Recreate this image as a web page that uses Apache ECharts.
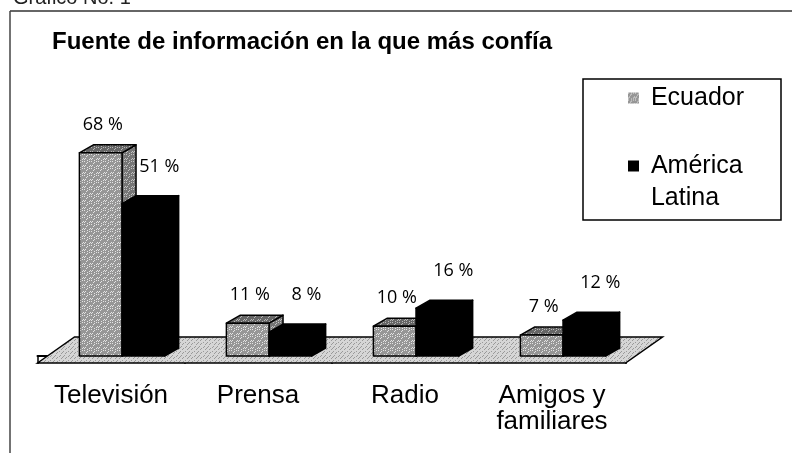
<!DOCTYPE html>
<html>
<head>
<meta charset="utf-8">
<title>Fuente de información en la que más confía</title>
<script src="https://cdn.jsdelivr.net/npm/echarts@6.0.0/dist/echarts.min.js"></script>
<style>
html, body { margin: 0; padding: 0; background: #fff; }
#chart { width: 792px; height: 453px; }
</style>
</head>
<body>
<div id="chart"></div>
<script>
var categories = ['Televisión', 'Prensa', 'Radio', 'Amigos y\nfamiliares'];
var ecuador = [68, 11, 10, 7];
var americaLatina = [51, 8, 16, 12];
var seriesNames = ['Ecuador', 'América Latina'];

var NARROW = '"Liberation Sans Narrow", "Arial Narrow", "Liberation Sans", sans-serif';
var LABEL_FONT = '"Open Sans", "DejaVu Sans", sans-serif';

// textura punteada (patron fijo)
function stipple(base, dots, size) {
	var c = document.createElement('canvas');
	c.width = c.height = size;
	var ctx = c.getContext('2d');
	ctx.fillStyle = base;
	ctx.fillRect(0, 0, size, size);
	ctx.fillStyle = dots;
	for (var i = 0; i < size; i++) {
		for (var j = 0; j < size; j++) {
			if ((i * 7 + j * 11 + (i * j) % 5) % 5 === 0) ctx.fillRect(i, j, 1, 1);
		}
	}
	return { image: c, repeat: 'repeat' };
}

var grayFront = stipple('#969696', '#e4e4e4', 7);
var grayTop   = stipple('#666666', '#b8b8b8', 7);
var graySide  = stipple('#767676', '#c4c4c4', 7);
var floorFill = stipple('#d6d6d6', '#9a9a9a', 9);

var DX = 14, DY = -8;

//barras 3D
function barRender(kind)
{
	return function (params, api)
	{
		var cat = api.value(0), val = api.value(1);
		var base = api.coord([cat, 0]);
		var top = api.coord([cat, val]);
		var band = api.size([1, 0])[0];
		var w = band * 0.29;
		var x = base[0] - band * 0.215 + (kind === 1 ? w : 0);
		var y0 = base[1], y1 = top[1];
		var black = kind === 1;
		var line = { stroke: '#000', lineWidth: 1.5, lineJoin: 'round' };
		var front = black ? '#000' : grayFront;
		var topF = black ? '#000' : grayTop;
		var side = black ? '#000' : graySide;
		return {
			type: 'group',
			children: [
				{ type: 'polygon', shape: { points: [[x + w, y1], [x + w + DX, y1 + DY], [x + w + DX, y0 + DY], [x + w, y0]] },
				  style: Object.assign({ fill: side }, line) },
				{ type: 'polygon', shape: { points: [[x, y1], [x + DX, y1 + DY], [x + w + DX, y1 + DY], [x + w, y1]] },
				  style: Object.assign({ fill: topF }, line) },
				{ type: 'rect', shape: { x: x, y: y1, width: w, height: y0 - y1 },
				  style: Object.assign({ fill: front }, line) },
				{ type: 'text',
				  style: {
					text: val + ' %',
					x: x + w / 2 + (black ? 16 : 2),
					y: y1 - (black ? 37 : 28),
					align: 'center', verticalAlign: 'middle',
					font: '18px ' + LABEL_FONT, fill: '#000'
				  } }
			]
		};
	};
}

//piso del grafico
function floorRender(params, api)
{
	var base = api.coord([0, 0]);
	var band = api.size([1, 0])[0];
	var xl = base[0] - band / 2, xr = xl + band * categories.length;
	var yf = base[1] + 7;
	return {
		type: 'polygon',
		shape: { points: [[xl, yf], [xl + 37, yf - 26], [xr + 37, yf - 26], [xr, yf]] },
		style: { fill: floorFill, stroke: '#000', lineWidth: 1.5 }
	};
}

var option = {
	animation: false,
	backgroundColor: '#fff',
	title: {
		text: 'Fuente de información en la que más confía',
		left: 52, top: 30, padding: 0,
		textStyle: { fontFamily: NARROW, fontWeight: 'bold', fontSize: 24, color: '#000' }
	},
	legend: {
		orient: 'vertical',
		left: 628, top: 82, padding: 0, itemGap: 4,
		itemWidth: 11, itemHeight: 11, icon: 'rect',
		data: seriesNames,
		formatter: function (name) {
			return name === 'Ecuador' ? ' Ecuador' : '\n América\n Latina';
		},
		textStyle: { fontFamily: NARROW, fontSize: 25, lineHeight: 32, color: '#000' }
	},
	grid: { left: 37.5, right: 166.5, top: 117, bottom: 97, outerBoundsMode: 'none' },
	xAxis: {
		type: 'category',
		data: categories,
		offset: 7,
		axisLine: { lineStyle: { color: '#000', width: 2 } },
		axisTick: { show: true, length: 8, lineStyle: { color: '#000', width: 1.5 } },
		axisLabel: { interval: 0, fontFamily: NARROW, fontSize: 26, lineHeight: 26, color: '#000', margin: 20 },
		splitLine: { show: false }
	},
	yAxis: { type: 'value', min: 0, max: 80, show: false },
	graphic: [
		{ type: 'text', left: 13, top: -12, style: { text: 'Gráfico No. 1', font: '20px ' + NARROW, fill: '#222' } },
		{ type: 'line', shape: { x1: 10, y1: 11, x2: 792, y2: 11 }, style: { stroke: '#333', lineWidth: 1.5 } },
		{ type: 'line', shape: { x1: 10, y1: 11, x2: 10, y2: 453 }, style: { stroke: '#444', lineWidth: 1.5 } },
		{ type: 'rect', shape: { x: 583, y: 79, width: 198, height: 141 }, style: { fill: 'none', stroke: '#000', lineWidth: 1.5 }, z: -1 }
	],
	series: [
		{ name: 'floor', type: 'custom', renderItem: floorRender, data: [[0]], silent: true, z: 1 },
		{ name: seriesNames[0], type: 'custom', renderItem: barRender(0), itemStyle: { color: grayFront },
		  data: ecuador.map(function (v, i) { return [i, v]; }), z: 2 },
		{ name: seriesNames[1], type: 'custom', renderItem: barRender(1), itemStyle: { color: '#000' },
		  data: americaLatina.map(function (v, i) { return [i, v]; }), z: 3 }
	]
};
echarts.init(document.getElementById('chart')).setOption(option);
</script>
</body>
</html>
